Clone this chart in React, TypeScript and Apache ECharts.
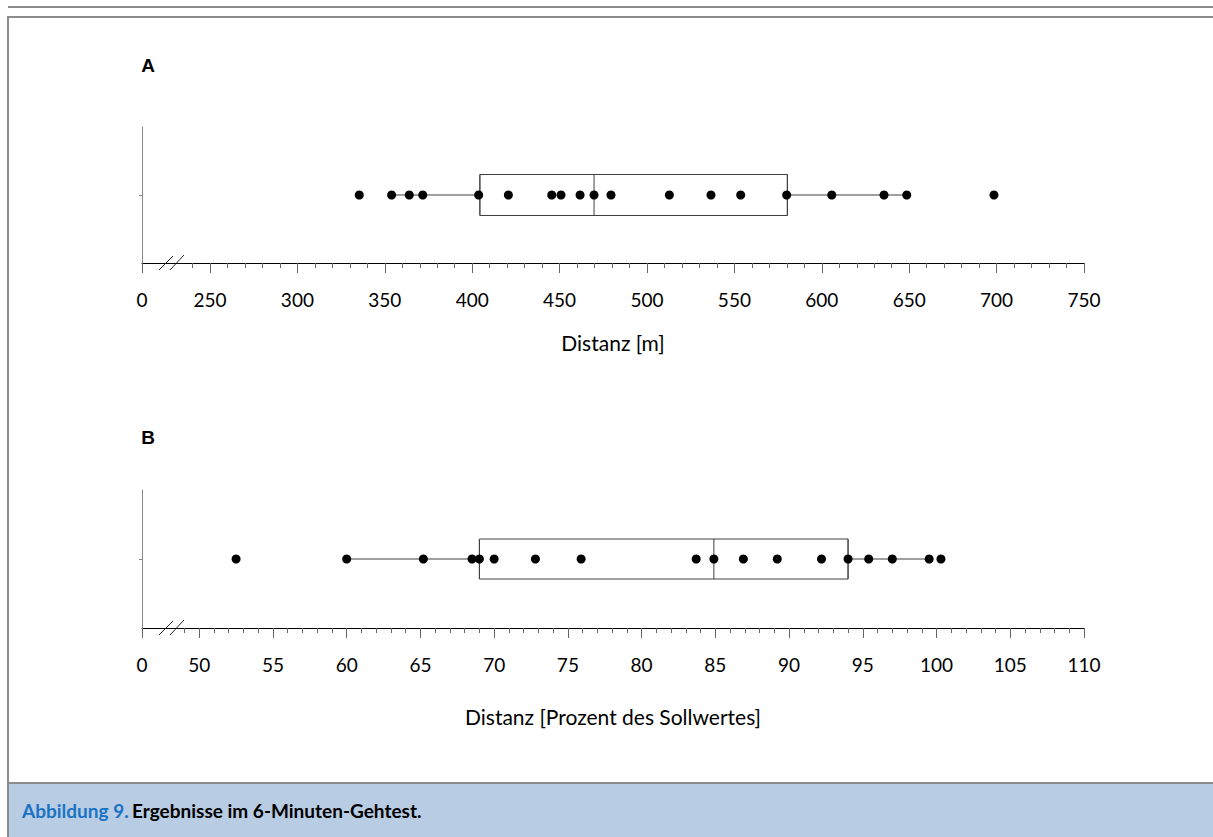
import React, { useEffect, useRef } from "react";
import * as echarts from "echarts";

// Panel A: distance walked in 6 minutes [m]
const distanceMeters = [335.4, 353.9, 364.0, 371.7, 403.7, 420.7, 445.5, 450.8, 461.7, 469.7, 479.4, 512.8, 536.6, 553.6, 579.9, 605.7, 635.6, 648.6, 698.5];
// [lower whisker, Q1, median, Q3, upper whisker]
const boxA = [354.0, 404.4, 469.7, 580.3, 648.6];
const axisStartA = 211.1; // shown as "0" (axis break)
const axisEndA = 750;
const majorTicksA = [250, 300, 350, 400, 450, 500, 550, 600, 650, 700, 750];
const minorStepA = 10;

// Panel B: distance in percent of predicted value
const percentPredicted = [52.5, 60.0, 65.2, 68.5, 69.0, 70.0, 72.8, 75.9, 83.7, 84.9, 86.9, 89.2, 92.2, 94.0, 95.4, 97.0, 99.5, 100.3];
const boxB = [60.0, 69.0, 84.9, 94.0, 99.5];
const axisStartB = 46.12;
const axisEndB = 110;
const majorTicksB = [50, 55, 60, 65, 70, 75, 80, 85, 90, 95, 100, 105, 110];
const minorStepB = 1;

const nameA = "Distanz [m]";
const nameB = "Distanz [Prozent des Sollwertes]";
const captionLead = "Abbildung 9.";
const captionText = "Ergebnisse im 6-Minuten-Gehtest.";

const FONT = "Lato";

function minorTicks(start: number, first: number, end: number, step: number, majors: number[]) {
  const out: number[] = [];
  for (let v = first; v < end + 1e-9; v += step) {
    const r = Math.round(v * 100) / 100;
    if (!majors.includes(r) && r > start) out.push(r);
  }
  return out;
}

function panelAxes(gridIndex: number, min: number, max: number, majors: number[], minors: number[], name: string, nameGap: number) {
  const major = {
    type: "value",
    gridIndex,
    position: "bottom",
    min,
    max,
    name,
    nameLocation: "middle",
    nameGap,
    nameTextStyle: { fontFamily: FONT, fontSize: 21, color: "#000" },
    axisLine: { show: true, lineStyle: { color: "#000", width: 1 } },
    axisTick: { show: true, length: 10, customValues: [min, ...majors], lineStyle: { color: "#666" } },
    axisLabel: {
      show: true,
      customValues: [min, ...majors],
      formatter: (v: number) => (v < majors[0] - 0.5 ? "0" : String(Math.round(v))),
      fontFamily: FONT,
      fontSize: 19,
      color: "#000",
      margin: 27,
    },
    splitLine: { show: false },
  };
  const minor = {
    type: "value",
    gridIndex,
    position: "bottom",
    min,
    max,
    axisLine: { show: false },
    axisTick: { show: true, length: 5, customValues: minors, lineStyle: { color: "#666" } },
    axisLabel: { show: false },
    splitLine: { show: false },
  };
  return [major, minor];
}

export default function App() {
  const ref = useRef<HTMLDivElement>(null);
  useEffect(() => {
    if (!ref.current) return;
    const chart = echarts.init(ref.current, null, { renderer: "svg" });

    const minorA = minorTicks(axisStartA, 240, axisEndA, minorStepA, majorTicksA);
    const minorB = minorTicks(axisStartB, 49, axisEndB, minorStepB, majorTicksB);

    const axA = panelAxes(0, axisStartA, axisEndA, majorTicksA, minorA, nameA, 69);
    const axB = panelAxes(1, axisStartB, axisEndB, majorTicksB, minorB, nameB, 78);

    const yAx = (gridIndex: number, cat: string) => ({
      type: "category",
      gridIndex,
      data: [cat],
      axisLine: { show: true, lineStyle: { color: "#888", width: 1 } },
      axisTick: { show: true, alignWithLabel: true, length: 3, lineStyle: { color: "#888" } },
      axisLabel: { show: false },
      splitLine: { show: false },
    });

    const panelSeries = (xIdx: number, yIdx: number, cat: string, values: number[], box: number[], boxH: number) => [
      {
        type: "line",
        xAxisIndex: xIdx,
        yAxisIndex: yIdx,
        data: [[box[0], cat], [box[4], cat]],
        symbol: "none",
        lineStyle: { color: "#7f7f7f", width: 1.3 },
        z: 1,
        silent: true,
      },
      {
        type: "boxplot",
        xAxisIndex: xIdx,
        yAxisIndex: yIdx,
        layout: "horizontal",
        boxWidth: [boxH, boxH],
        data: [[box[1], box[1], box[2], box[3], box[3]]],
        itemStyle: { color: "#fff", borderColor: "#404040", borderWidth: 1 },
        z: 2,
        silent: true,
      },
      {
        type: "scatter",
        xAxisIndex: xIdx,
        yAxisIndex: yIdx,
        data: values.map((v) => [v, cat]),
        symbol: "circle",
        symbolSize: 9,
        itemStyle: { color: "#000", opacity: 1 },
        z: 3,
        silent: true,
      },
    ];

    const slashes = (ay: number) => [
      { type: "line", shape: { x1: 159, y1: ay + 7, x2: 173, y2: ay - 7 }, style: { stroke: "#222", lineWidth: 1 }, z: 10 },
      { type: "line", shape: { x1: 170, y1: ay + 7, x2: 184, y2: ay - 8 }, style: { stroke: "#222", lineWidth: 1 }, z: 10 },
    ];

    chart.setOption({
      animation: false,
      backgroundColor: "#fff",
      grid: [
        { left: 142, top: 127, width: 942, height: 136 },
        { left: 142, top: 490, width: 942, height: 138 },
      ],
      xAxis: [...axA, ...axB],
      yAxis: [yAx(0, "A"), yAx(1, "B")],
      series: [
        ...panelSeries(0, 0, "A", distanceMeters, boxA, 41),
        ...panelSeries(2, 1, "B", percentPredicted, boxB, 40),
      ],
      graphic: [
        // frame
        { type: "rect", shape: { x: 8, y: 6, width: 1205, height: 2 }, style: { fill: "#8c8c8c" } },
        { type: "rect", shape: { x: 8, y: 16, width: 1205, height: 2 }, style: { fill: "#8c8c8c" } },
        { type: "rect", shape: { x: 7, y: 16, width: 2, height: 821 }, style: { fill: "#8c8c8c" } },
        { type: "rect", shape: { x: 9, y: 784, width: 1204, height: 53 }, style: { fill: "#b8cce4" } },
        { type: "rect", shape: { x: 8, y: 782, width: 1205, height: 2 }, style: { fill: "#8c8c8c" } },
        // panel letters
        { type: "text", x: 148, y: 65, style: { text: "A", font: "bold 19px 'Liberation Sans', Arial, sans-serif", fill: "#000", align: "center", verticalAlign: "middle" } },
        { type: "text", x: 148, y: 437, style: { text: "B", font: "bold 19px 'Liberation Sans', Arial, sans-serif", fill: "#000", align: "center", verticalAlign: "middle" } },
        // axis breaks
        ...slashes(263),
        ...slashes(628),
        // caption
        {
          type: "text",
          x: 22,
          y: 810,
          style: {
            text: `{a|${captionLead}} {b|${captionText}}`,
            verticalAlign: "middle",
            rich: {
              a: { fontFamily: FONT, fontWeight: "bold", fontSize: 19, fill: "#1a73c2" },
              b: { fontFamily: FONT, fontWeight: "bold", fontSize: 19, fill: "#000" },
            },
          },
        },
      ],
    });
    return () => chart.dispose();
  }, []);
  return <div ref={ref} style={{ position: "fixed", left: 0, top: 0, width: 1213, height: 837 }} />;
}
